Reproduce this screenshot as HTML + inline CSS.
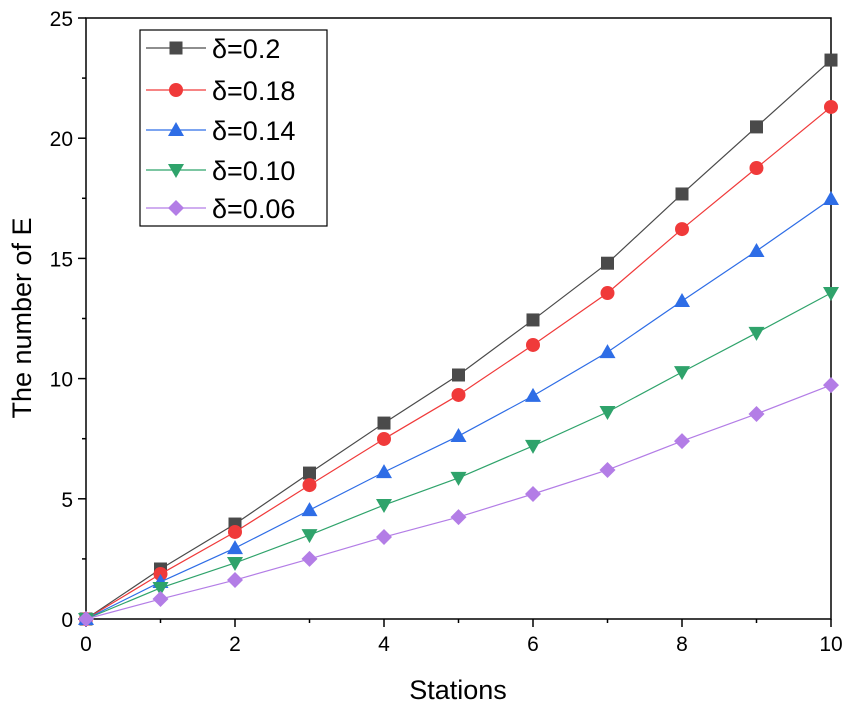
<!DOCTYPE html>
<html><head><meta charset="utf-8"><style>
html,body{margin:0;padding:0;background:#fff;}
svg{display:block;font-family:"Liberation Sans",Arial,sans-serif;}
</style></head><body>
<svg id="chart" width="851" height="707"></svg>
<script>
const stations=[0,1,2,3,4,5,6,7,8,9,10];
const s020=[0,2.08,3.95,6.07,8.15,10.15,12.44,14.8,17.68,20.47,23.25];
const s018=[0,1.87,3.62,5.57,7.49,9.32,11.4,13.56,16.22,18.76,21.3];
const s014=[0,1.54,2.95,4.53,6.11,7.61,9.28,11.1,13.23,15.31,17.47];
const s010=[0,1.29,2.33,3.49,4.74,5.87,7.2,8.61,10.27,11.9,13.56];
const s006=[0,0.83,1.62,2.5,3.41,4.24,5.2,6.2,7.4,8.53,9.73];
const seriesLabels=["δ=0.2","δ=0.18","δ=0.14","δ=0.10","δ=0.06"];
const xTicks=[0,2,4,6,8,10];
const yTicks=[0,5,10,15,20,25];

const NS="http://www.w3.org/2000/svg";
const svg=document.getElementById('chart');
const X0=86,X1=831,Y0=619,Y1=18;
const xs=v=>X0+(v-0)/(10-0)*(X1-X0);
const ys=v=>Y0-(v-0)/(25-0)*(Y0-Y1);
function mk(tag,attrs,parent){const e=document.createElementNS(NS,tag);for(const k in attrs)e.setAttribute(k,attrs[k]);(parent||svg).appendChild(e);return e;}

const frame=mk('rect',{x:X0,y:Y1,width:X1-X0,height:Y0-Y1,fill:'none',stroke:'#000','stroke-width':1.5});



for(let v=0;v<=10;v+=1){
  const major=v%2===0;
  const t=mk('line',{x1:xs(v),x2:xs(v),y1:Y0,y2:Y0+(major?8:4),stroke:'#000','stroke-width':1.5});
  
  
}
xTicks.forEach(v=>{
  const t=mk('text',{x:xs(v),y:651,'font-size':21,'text-anchor':'middle',fill:'#000'});
  t.textContent=v;
  
  
});
for(let v=0;v<=25;v+=2.5){
  const major=v%5===0;
  const t=mk('line',{x1:X0,x2:X0-(major?8:4),y1:ys(v),y2:ys(v),stroke:'#000','stroke-width':1.5});
  
  
}
yTicks.forEach(v=>{
  const t=mk('text',{x:73,y:ys(v)+8,'font-size':21,'text-anchor':'end',fill:'#000'});
  t.textContent=v;
  
  
});
const xt=mk('text',{x:458,y:699,'font-size':27,'text-anchor':'middle',fill:'#000'});
xt.textContent='Stations';


const yt=mk('text',{x:0,y:0,'font-size':27,'text-anchor':'middle',fill:'#000',transform:'translate(31,318) rotate(-90)'});
yt.textContent='The number of E';



function marker(type,cx,cy,color,parent){
  const r=8;
  if(type==='square') return mk('rect',{x:cx-6.5,y:cy-6.5,width:13,height:13,fill:color},parent);
  if(type==='circle') return mk('circle',{cx,cy,r:7,fill:color},parent);
  if(type==='up') return mk('polygon',{points:`${cx},${cy-r} ${cx+r},${cy+6} ${cx-r},${cy+6}`,fill:color},parent);
  if(type==='down') return mk('polygon',{points:`${cx-r},${cy-6} ${cx+r},${cy-6} ${cx},${cy+r}`,fill:color},parent);
  return mk('polygon',{points:`${cx},${cy-r} ${cx+r},${cy} ${cx},${cy+r} ${cx-r},${cy}`,fill:color},parent);
}
const all=[s020,s018,s014,s010,s006];
const colors=['#4a4a4a','#f03a3a','#2e6de6','#2fa36b','#b37de6'];
const types=['square','circle','up','down','diamond'];
all.forEach((data,i)=>{
  const g=mk('g',{});
  
  
  const pl=mk('polyline',{points:stations.map((s,j)=>xs(s)+','+ys(data[j])).join(' '),fill:'none',stroke:colors[i],'stroke-width':1.2},g);
  
  
  stations.forEach((s,j)=>{
    const m=marker(types[i],xs(s),ys(data[j]),colors[i],g);
    
    
  });
});
const lg=mk('g',{});


const lb=mk('rect',{x:140,y:30,width:187,height:196,fill:'#fff',stroke:'#000','stroke-width':1.2},lg);


const ly=[48,90,130,170,208];
seriesLabels.forEach((lab,i)=>{
  const e=mk('g',{},lg);
  
  
  mk('line',{x1:146,x2:206,y1:ly[i],y2:ly[i],stroke:colors[i],'stroke-width':1.2},e);
  marker(types[i],176,ly[i],colors[i],e);
  const t=mk('text',{x:212,y:ly[i]+10,'font-size':27,fill:'#000'},e);
  t.textContent=lab;
});
</script>
</body></html>
